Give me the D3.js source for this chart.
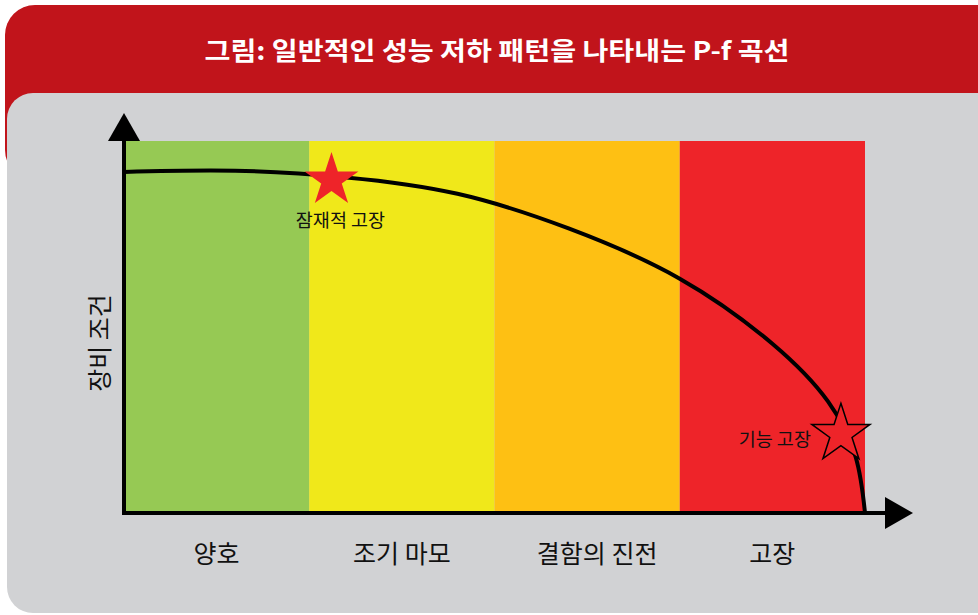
<!DOCTYPE html>
<html>
<head>
<meta charset="utf-8">
<script src="https://d3js.org/d3.v7.min.js"></script>
<style>
  body { margin: 0; background: #fff; }
  svg { display: block; }
  text { font-family: "Noto Sans CJK KR", "Noto Sans", sans-serif; }
</style>
</head>
<body>
<svg id="chart" width="978" height="615"></svg>
<script>
// 단계 (x축 범주)
const stages = ["양호", "조기 마모", "결함의 진전", "고장"];
const stageColors = ["#96C954", "#F0E81A", "#FEC013", "#EE2429"];

// P-f 곡선: 시간(단계 단위) vs 장비 조건(%)
const curveTime = [0, 0.6, 1.2, 1.8, 2.4, 3.0, 3.5, 3.8, 3.95, 4.0];
const curveCond = [91.7, 92.0, 90.2, 85.8, 76.5, 63.0, 45.5, 30.0, 15.0, 0];

// 표시 지점
const markerNames = ["잠재적 고장", "기능 고장"];
const markerTime = [1.12, 3.87];
const markerCond = [90.0, 21.8];

const titleText = "그림: 일반적인 성능 저하 패턴을 나타내는 P-f 곡선";
const yTitle = "장비 조건";

const svg = d3.select("#chart");

// 배경 패널
svg.append("rect")
    .attr("x", 5).attr("y", 5)
    .attr("width", 1010).attr("height", 175)
    .attr("rx", 30)
    .attr("fill", "#C1141B");
svg.append("rect")
    .attr("x", 7).attr("y", 93)
    .attr("width", 1010).attr("height", 520)
    .attr("rx", 26)
    .attr("fill", "#D1D2D4");

svg.append("text")
    .attr("x", 497).attr("y", 60)
    .attr("text-anchor", "middle")
    .attr("fill", "#fff")
    .attr("font-weight", "bold")
    .attr("font-size", 25)
    .attr("textLength", 585)
    .attr("lengthAdjust", "spacingAndGlyphs")
    .text(titleText);

const plotL = 124, plotR = 865, plotT = 141, plotB = 513;

const x = d3.scaleLinear().domain([0, stages.length]).range([plotL, plotR]);
const y = d3.scaleLinear().domain([0, 100]).range([plotB, plotT]);
const band = d3.scaleBand().domain(stages).range([plotL, plotR]);

// 단계별 배경 띠
svg.append("g")
    .selectAll("rect")
    .data(stages)
    .enter()
    .append("rect")
    .attr("x", d => band(d))
    .attr("y", y(100))
    .attr("width", band.bandwidth())
    .attr("height", y(0) - y(100))
    .attr("fill", (d, i) => stageColors[i]);

// 곡선
const pts = curveTime.map((t, i) => [t, curveCond[i]]);
const line = d3.line()
    .x(d => x(d[0]))
    .y(d => y(d[1]))
    .curve(d3.curveNatural);

svg.append("path")
    .datum(pts)
    .attr("d", line)
    .attr("fill", "none")
    .attr("stroke", "#000")
    .attr("stroke-width", 4);

// 축
svg.append("line")
    .attr("x1", plotL).attr("x2", 886)
    .attr("y1", plotB).attr("y2", plotB)
    .attr("stroke", "#000").attr("stroke-width", 4);
svg.append("path")
    .attr("d", `M885,${plotB - 16}L913,${plotB}L885,${plotB + 16}Z`)
    .attr("fill", "#000");
svg.append("line")
    .attr("x1", plotL).attr("x2", plotL)
    .attr("y1", plotB + 2).attr("y2", 140)
    .attr("stroke", "#000").attr("stroke-width", 4);
svg.append("path")
    .attr("d", `M${plotL - 16},141L${plotL},113L${plotL + 16},141Z`)
    .attr("fill", "#000");

// x축 레이블
svg.append("g")
    .selectAll("text")
    .data(stages)
    .enter()
    .append("text")
    .attr("x", d => band(d) + band.bandwidth() / 2 + (d === "결함의 진전" ? 10 : 0))
    .attr("y", 563)
    .attr("text-anchor", "middle")
    .attr("font-size", 25)
    .attr("fill", "#111")
    .text(d => d);

// y축 제목
svg.append("text")
    .attr("transform", "translate(109,343) rotate(-90)")
    .attr("text-anchor", "middle")
    .attr("font-size", 25)
    .attr("fill", "#111")
    .text(yTitle);

// 별 모양
const star = d3.symbol().type(d3.symbolStar);
const starSize = [900, 1050];
const starFill = ["#EE2429", "#EE2429"];
const starStroke = ["none", "#000"];

svg.append("g")
    .selectAll("path")
    .data(markerNames)
    .enter()
    .append("path")
    .attr("transform", (d, i) => `translate(${x(markerTime[i])},${y(markerCond[i]) + 2})`)
    .attr("d", (d, i) => star.size(starSize[i])())
    .attr("fill", (d, i) => starFill[i])
    .attr("stroke", (d, i) => starStroke[i])
    .attr("stroke-width", 1.5);

// 지점 레이블
svg.append("text")
    .attr("x", x(markerTime[0]) + 9)
    .attr("y", y(markerCond[0]) + 49)
    .attr("text-anchor", "middle")
    .attr("font-size", 18.5)
    .attr("fill", "#111")
    .text(markerNames[0]);
svg.append("text")
    .attr("x", x(markerTime[1]) - 30)
    .attr("y", y(markerCond[1]) + 14)
    .attr("text-anchor", "end")
    .attr("font-size", 18.5)
    .attr("fill", "#111")
    .text(markerNames[1]);
</script>
</body>
</html>
